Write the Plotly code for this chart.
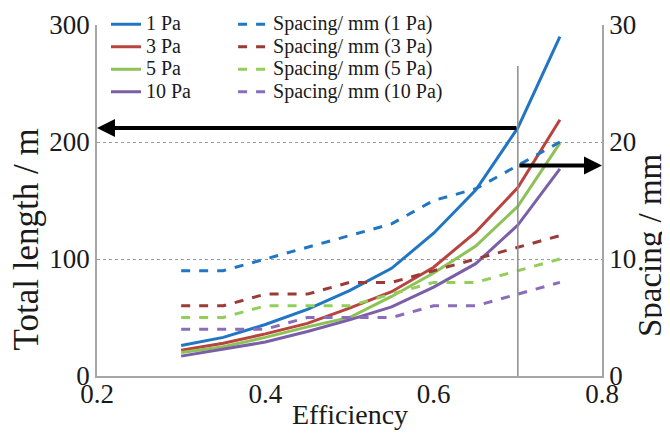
import plotly.graph_objects as go

# efficiency values (x axis)
efficiency = [0.3, 0.35, 0.4, 0.45, 0.5, 0.55, 0.6, 0.65, 0.7, 0.75]

# total length / m (left axis)
length_1pa = [26, 33, 44, 57, 73, 92, 122, 159, 212, 290]
length_3pa = [22, 28, 36, 45, 58, 72, 93, 123, 161, 219]
length_5pa = [20, 25, 33, 42, 50, 68, 88, 111, 145, 199]
length_10pa = [17, 23, 29, 38, 48, 59, 76, 96, 129, 177]

# spacing / mm (right axis)
spacing_1pa = [9, 9, 10, 11, 12, 13, 15, 16, 18, 20]
spacing_3pa = [6, 6, 7, 7, 8, 8, 9, 10, 11, 12]
spacing_5pa = [5, 5, 6, 6, 6, 7, 8, 8, 9, 10]
spacing_10pa = [4, 4, 4, 5, 5, 5, 6, 6, 7, 8]

pressures = ["1 Pa", "3 Pa", "5 Pa", "10 Pa"]
lengths = [length_1pa, length_3pa, length_5pa, length_10pa]
spacings = [spacing_1pa, spacing_3pa, spacing_5pa, spacing_10pa]

solid_colors = ["#2176c4", "#b8433f", "#8dc257", "#7a5ea8"]
dash_colors = ["#2176c4", "#9b3a36", "#92cf5a", "#8a6cbb"]

cutoff = 0.7  # efficiency marked by the vertical line
font = "Times New Roman, Liberation Serif, DejaVu Serif, serif"
txt = "#1a1a1a"


def big(s):
    # legend text a bit larger than the legend row height (rows packed tighter)
    return f'<span style="font-size:20px">{s}</span>'


fig = go.Figure()

for name, vals, col in zip(pressures, lengths, solid_colors):
    fig.add_trace(go.Scatter(
        x=efficiency, y=vals, mode="lines", name=big(name),
        line=dict(color=col, width=3), legend="legend"
    ))

for name, vals, col in zip(pressures, spacings, dash_colors):
    fig.add_trace(go.Scatter(
        x=efficiency, y=vals, mode="lines", name=big(f"Spacing/ mm ({name})"),
        line=dict(color=col, width=3, dash="dash"), yaxis="y2", legend="legend2"
    ))

# values read at the cutoff
i_cut = efficiency.index(cutoff)
len_at_cut = length_1pa[i_cut]
sp_at_cut = spacing_1pa[i_cut]

fig.add_shape(type="line", xref="x", yref="y", x0=cutoff, x1=cutoff,
              y0=0, y1=265, line=dict(color="#8c8c8c", width=1.5))

fig.add_annotation(x=0.2, y=len_at_cut, ax=cutoff, ay=len_at_cut,
                   xref="x", yref="y", axref="x", ayref="y", text="",
                   showarrow=True, arrowhead=2, arrowsize=0.9,
                   arrowwidth=4, arrowcolor="#000000")
fig.add_annotation(x=0.8, y=sp_at_cut, ax=cutoff, ay=sp_at_cut,
                   xref="x", yref="y2", axref="x", ayref="y2", text="",
                   showarrow=True, arrowhead=2, arrowsize=0.9,
                   arrowwidth=4, arrowcolor="#000000")

# axis titles placed like the original
fig.add_annotation(text="Total length / m", textangle=-90, xref="paper", yref="paper",
                   x=-0.14, y=0.39, xanchor="center", yanchor="middle",
                   showarrow=False, font=dict(size=35, family=font, color=txt))
fig.add_annotation(text="Spacing / mm", textangle=-90, xref="paper", yref="paper",
                   x=1.095, y=0.373, xanchor="center", yanchor="middle",
                   showarrow=False, font=dict(size=33, family=font, color=txt))
fig.add_annotation(text="Efficiency", xref="paper", yref="paper",
                   x=0.5, y=-0.111, xanchor="center", yanchor="middle",
                   showarrow=False, font=dict(size=28, family=font, color=txt))

axis_line = "#a6a6a6"
grid = "#9a9a9a"

fig.update_layout(
    width=662, height=425,
    margin=dict(l=89, r=68, t=17, b=57, autoexpand=False),
    paper_bgcolor="white", plot_bgcolor="white",
    font=dict(family=font, size=27, color=txt),
    showlegend=True,
    xaxis=dict(
        range=[0.2, 0.8], dtick=0.2, tick0=0.2, tickformat=".1f",
        showgrid=False, zeroline=False,
        showline=True, linecolor=axis_line, linewidth=1.5,
        ticks="", tickfont=dict(size=27), ticklabelstandoff=-7,
    ),
    yaxis=dict(
        range=[0, 300], dtick=100,
        showgrid=True, gridcolor=grid, griddash="dot", gridwidth=1,
        zeroline=False, showline=True, linecolor=axis_line, linewidth=1.5,
        ticks="", tickfont=dict(size=27),
    ),
    yaxis2=dict(
        range=[0, 30], dtick=10, overlaying="y", side="right",
        showgrid=False, zeroline=False,
        showline=True, linecolor=axis_line, linewidth=1.5,
        ticks="", tickfont=dict(size=27),
    ),
    legend=dict(
        xref="container", yref="container",
        x=0.148, y=1.05, xanchor="left", yanchor="top",
        bgcolor="rgba(0,0,0,0)", font=dict(size=15, family=font, color=txt),
        tracegroupgap=0, itemwidth=30,
    ),
    legend2=dict(
        xref="container", yref="container",
        x=0.340, y=1.05, xanchor="left", yanchor="top",
        bgcolor="rgba(0,0,0,0)", font=dict(size=15, family=font, color=txt),
        tracegroupgap=0, itemwidth=30,
    ),
)

fig.write_html("out.html")
